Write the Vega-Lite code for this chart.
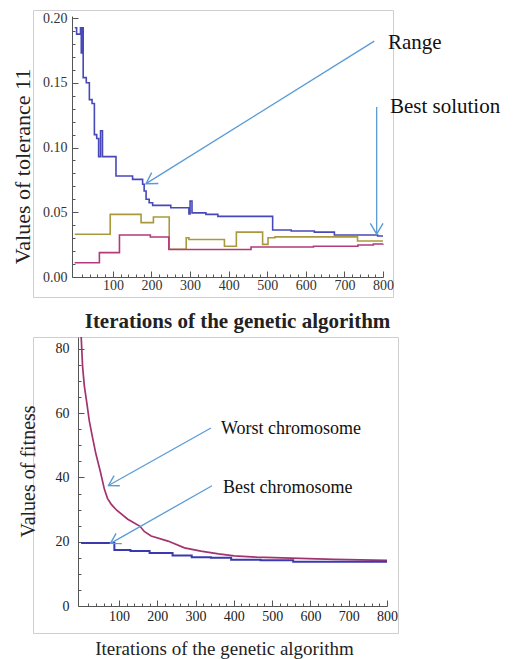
{
  "$schema": "https://vega.github.io/schema/vega-lite/v6.json",
  "padding": {"left": 10, "top": 9, "right": 2, "bottom": 2},
  "bounds": "flush",
  "spacing": 40,
  "config": {
    "font": "Liberation Serif",
    "view": {"stroke": "#cfcfcf", "strokeWidth": 1},
    "axis": {
      "grid": false,
      "domainColor": "#555555",
      "tickColor": "#555555",
      "labelFont": "Liberation Serif",
      "titleFont": "Liberation Serif",
      "labelOverlap": false,
      "labelFlush": false,
      "labelFontSize": 14
    }
  },
  "datasets": {
    "tolerance": [
      {"series": "Range", "x": 1, "y": 0.1925},
      {"series": "Range", "x": 6, "y": 0.1876},
      {"series": "Range", "x": 16, "y": 0.1925},
      {"series": "Range", "x": 18, "y": 0.173},
      {"series": "Range", "x": 19, "y": 0.1925},
      {"series": "Range", "x": 23, "y": 0.154},
      {"series": "Range", "x": 31, "y": 0.150},
      {"series": "Range", "x": 39, "y": 0.137},
      {"series": "Range", "x": 46, "y": 0.134},
      {"series": "Range", "x": 52, "y": 0.110},
      {"series": "Range", "x": 58, "y": 0.107},
      {"series": "Range", "x": 63, "y": 0.093},
      {"series": "Range", "x": 68, "y": 0.113},
      {"series": "Range", "x": 73, "y": 0.093},
      {"series": "Range", "x": 108, "y": 0.078},
      {"series": "Range", "x": 151, "y": 0.0754},
      {"series": "Range", "x": 177, "y": 0.0716},
      {"series": "Range", "x": 181, "y": 0.0664},
      {"series": "Range", "x": 186, "y": 0.060},
      {"series": "Range", "x": 194, "y": 0.0574},
      {"series": "Range", "x": 203, "y": 0.0553},
      {"series": "Range", "x": 250, "y": 0.0535},
      {"series": "Range", "x": 297, "y": 0.0487},
      {"series": "Range", "x": 300, "y": 0.0587},
      {"series": "Range", "x": 305, "y": 0.0495},
      {"series": "Range", "x": 341, "y": 0.0484},
      {"series": "Range", "x": 372, "y": 0.0468},
      {"series": "Range", "x": 514, "y": 0.0363},
      {"series": "Range", "x": 562, "y": 0.0355},
      {"series": "Range", "x": 622, "y": 0.0347},
      {"series": "Range", "x": 674, "y": 0.0324},
      {"series": "Range", "x": 786, "y": 0.0317},
      {"series": "Range", "x": 800, "y": 0.0317},
      {"series": "Upper", "x": 1, "y": 0.033},
      {"series": "Upper", "x": 93, "y": 0.0484},
      {"series": "Upper", "x": 173, "y": 0.042},
      {"series": "Upper", "x": 205, "y": 0.0463},
      {"series": "Upper", "x": 246, "y": 0.0214},
      {"series": "Upper", "x": 290, "y": 0.0303},
      {"series": "Upper", "x": 297, "y": 0.029},
      {"series": "Upper", "x": 389, "y": 0.0238},
      {"series": "Upper", "x": 420, "y": 0.0347},
      {"series": "Upper", "x": 488, "y": 0.0252},
      {"series": "Upper", "x": 502, "y": 0.0303},
      {"series": "Upper", "x": 520, "y": 0.031},
      {"series": "Upper", "x": 734, "y": 0.0278},
      {"series": "Upper", "x": 800, "y": 0.0278},
      {"series": "Lower", "x": 1, "y": 0.011},
      {"series": "Lower", "x": 65, "y": 0.0188},
      {"series": "Lower", "x": 117, "y": 0.0324},
      {"series": "Lower", "x": 197, "y": 0.0309},
      {"series": "Lower", "x": 245, "y": 0.0212},
      {"series": "Lower", "x": 458, "y": 0.0232},
      {"series": "Lower", "x": 620, "y": 0.0238},
      {"series": "Lower", "x": 735, "y": 0.0247},
      {"series": "Lower", "x": 775, "y": 0.0255},
      {"series": "Lower", "x": 800, "y": 0.0257}
    ],
    "fitness": [
      {"series": "Worst chromosome", "x": 1, "y": 84.5},
      {"series": "Worst chromosome", "x": 5, "y": 74.5},
      {"series": "Worst chromosome", "x": 9.5, "y": 68.5},
      {"series": "Worst chromosome", "x": 16.5, "y": 62.8},
      {"series": "Worst chromosome", "x": 22.5, "y": 57.6},
      {"series": "Worst chromosome", "x": 31, "y": 52.4},
      {"series": "Worst chromosome", "x": 40, "y": 47.2},
      {"series": "Worst chromosome", "x": 51, "y": 42},
      {"series": "Worst chromosome", "x": 62, "y": 36.3},
      {"series": "Worst chromosome", "x": 70, "y": 33.5},
      {"series": "Worst chromosome", "x": 80, "y": 31.6},
      {"series": "Worst chromosome", "x": 94, "y": 29.8},
      {"series": "Worst chromosome", "x": 123, "y": 27},
      {"series": "Worst chromosome", "x": 140, "y": 25.8},
      {"series": "Worst chromosome", "x": 155, "y": 24.8},
      {"series": "Worst chromosome", "x": 166, "y": 23.2},
      {"series": "Worst chromosome", "x": 184, "y": 21.8},
      {"series": "Worst chromosome", "x": 228, "y": 20.2},
      {"series": "Worst chromosome", "x": 271, "y": 18.1},
      {"series": "Worst chromosome", "x": 314, "y": 17.1},
      {"series": "Worst chromosome", "x": 360, "y": 16.2},
      {"series": "Worst chromosome", "x": 401, "y": 15.6},
      {"series": "Worst chromosome", "x": 460, "y": 15.2},
      {"series": "Worst chromosome", "x": 549, "y": 14.9},
      {"series": "Worst chromosome", "x": 663, "y": 14.5},
      {"series": "Worst chromosome", "x": 800, "y": 14.2},
      {"series": "Best chromosome", "x": 1, "y": 19.6},
      {"series": "Best chromosome", "x": 88, "y": 17.4},
      {"series": "Best chromosome", "x": 130, "y": 17.1},
      {"series": "Best chromosome", "x": 180, "y": 16.5},
      {"series": "Best chromosome", "x": 240, "y": 15.7},
      {"series": "Best chromosome", "x": 290, "y": 15.2},
      {"series": "Best chromosome", "x": 340, "y": 15.0},
      {"series": "Best chromosome", "x": 393, "y": 14.4},
      {"series": "Best chromosome", "x": 470, "y": 14.2},
      {"series": "Best chromosome", "x": 555, "y": 13.8},
      {"series": "Best chromosome", "x": 800, "y": 13.8}
    ],
    "topArrows": [
      {"label": "Range", "x": 185.8, "y": 0.0721, "x2": 777.4, "y2": 0.1822},
      {"label": "Best solution", "x": 783.6, "y": 0.0332, "x2": 783.6, "y2": 0.1313}
    ],
    "topLabels": [
      {"label": "Range", "x": 812.9, "y": 0.1807},
      {"label": "Best solution", "x": 818, "y": 0.1313}
    ],
    "bottomArrows": [
      {"label": "Worst chromosome", "x": 72.6, "y": 37.5, "x2": 340.3, "y2": 55.4},
      {"label": "Best chromosome", "x": 77.8, "y": 19.5, "x2": 343, "y2": 37.4}
    ],
    "bottomLabels": [
      {"label": "Worst chromosome", "x": 366.5, "y": 55.1},
      {"label": "Best chromosome", "x": 371.7, "y": 36.7}
    ]
  },
  "vconcat": [
    {
      "width": 360,
      "height": 287,
      "encoding": {
        "x": {
          "field": "x", "type": "quantitative",
          "scale": {"domain": [-6, 800], "range": [39, 350], "nice": false, "zero": false},
          "axis": {
            "title": "Iterations of the genetic algorithm",
            "orient": "bottom",
            "offset": -20,
            "values": [20,40,60,80,100,120,140,160,180,200,220,240,260,280,300,320,340,360,380,400,420,440,460,480,500,520,540,560,580,600,620,640,660,680,700,720,740,760,780,800],
            "format": "d",
            "labelExpr": "datum.value % 100 === 0 ? datum.label : ''",
            "tickSize": {"condition": {"test": "datum.value % 100 === 0", "value": -6}, "value": -3},
            "labelPadding": 7,
            "labelFont": "Liberation Serif",
            "labelFontSize": 14,
            "labelColor": "#333333",
            "titleFontSize": 21,
            "titleFontWeight": "bold",
            "titleColor": "#222222",
            "titleX": 204,
            "titleY": 50,
            "titleBaseline": "alphabetic",
            "titleAlign": "center"
          }
        },
        "y": {
          "field": "y", "type": "quantitative",
          "scale": {"domain": [0, 0.2016], "range": [267, 6], "nice": false, "zero": false},
          "axis": {
            "title": "Values of tolerance 11",
            "orient": "left",
            "offset": -39,
            "values": [0,0.01,0.02,0.03,0.04,0.05,0.06,0.07,0.08,0.09,0.1,0.11,0.12,0.13,0.14,0.15,0.16,0.17,0.18,0.19,0.2],
            "labelExpr": "round(datum.value*100) % 5 === 0 ? format(datum.value, '.2f') : ''",
            "tickSize": {"condition": {"test": "round(datum.value*100) % 5 === 0", "value": -6}, "value": -3},
            "labelPadding": 11,
            "labelFont": "Liberation Serif",
            "labelFontSize": 14,
            "labelColor": "#333333",
            "titleFontSize": 22,
            "titleFontWeight": "normal",
            "titleColor": "#222222",
            "titleAngle": -90,
            "titleX": -43,
            "titleY": 156,
            "titleBaseline": "alphabetic",
            "titleAlign": "center"
          }
        }
      },
      "layer": [
        {
          "data": {"name": "tolerance"},
          "mark": {"type": "line", "interpolate": "step-after", "strokeWidth": 1.6},
          "encoding": {
            "color": {
              "field": "series", "type": "nominal",
              "scale": {"domain": ["Range", "Upper", "Lower"], "range": ["#4848b8", "#a89a3c", "#b23a7c"]},
              "legend": null
            }
          }
        },
        {
          "data": {"name": "topArrows"},
          "mark": {"type": "rule", "color": "#5b9bd5", "strokeWidth": 1.3},
          "encoding": {
            "x2": {"field": "x2"},
            "y2": {"field": "y2"}
          }
        },
        {
          "data": {"name": "topArrows"},
          "transform": [{"filter": "datum.label === 'Range'"}],
          "mark": {"type": "point", "shape": "M-1,-0.6L0,0L-1,0.6", "filled": false, "color": "#5b9bd5", "strokeWidth": 1.4, "size": 450, "opacity": 1, "angle": 148},
          "encoding": {}
        },
        {
          "data": {"name": "topArrows"},
          "transform": [{"filter": "datum.label === 'Best solution'"}],
          "mark": {"type": "point", "shape": "M-1,-0.6L0,0L-1,0.6", "filled": false, "color": "#5b9bd5", "strokeWidth": 1.4, "size": 450, "opacity": 1, "angle": 90},
          "encoding": {}
        },
        {
          "data": {"name": "topLabels"},
          "mark": {"type": "text", "align": "left", "baseline": "middle", "fontSize": 21, "font": "Liberation Serif", "color": "#111111"},
          "encoding": {
            "text": {"field": "label", "type": "nominal"}
          }
        }
      ]
    },
    {
      "width": 365,
      "height": 296,
      "encoding": {
        "x": {
          "field": "x", "type": "quantitative",
          "scale": {"domain": [-7, 800], "range": [45, 354], "nice": false, "zero": false},
          "axis": {
            "title": "Iterations of the genetic algorithm",
            "orient": "bottom",
            "offset": -27,
            "values": [20,40,60,80,100,120,140,160,180,200,220,240,260,280,300,320,340,360,380,400,420,440,460,480,500,520,540,560,580,600,620,640,660,680,700,720,740,760,780,800],
            "format": "d",
            "labelExpr": "datum.value % 100 === 0 ? datum.label : ''",
            "tickSize": {"condition": {"test": "datum.value % 100 === 0", "value": -6}, "value": -3},
            "labelPadding": 9,
            "labelFont": "Liberation Serif",
            "labelFontSize": 14,
            "labelColor": "#222222",
            "titleFontSize": 19,
            "titleFontWeight": "normal",
            "titleColor": "#222222",
            "titleX": 191,
            "titleY": 48,
            "titleBaseline": "alphabetic",
            "titleAlign": "center"
          }
        },
        "y": {
          "field": "y", "type": "quantitative",
          "scale": {"domain": [0, 83.7], "range": [269, 0], "nice": false, "zero": false},
          "axis": {
            "title": "Values of fitness",
            "orient": "left",
            "offset": -45,
            "values": [0,5,10,15,20,25,30,35,40,45,50,55,60,65,70,75,80],
            "labelExpr": "datum.value % 20 === 0 ? datum.label : ''",
            "tickSize": {"condition": {"test": "datum.value % 20 === 0", "value": -6}, "value": -3},
            "labelPadding": 15,
            "labelFont": "Liberation Serif",
            "labelFontSize": 14,
            "labelColor": "#222222",
            "titleFontSize": 20,
            "titleFontWeight": "normal",
            "titleColor": "#222222",
            "titleAngle": -90,
            "titleX": -43.5,
            "titleY": 134,
            "titleBaseline": "alphabetic",
            "titleAlign": "center"
          }
        }
      },
      "layer": [
        {
          "data": {"name": "fitness"},
          "mark": {"type": "line", "strokeWidth": 1.7, "clip": true},
          "transform": [{"filter": "datum.series === 'Worst chromosome'"}],
          "encoding": {
            "color": {"value": "#a3336f"}
          }
        },
        {
          "data": {"name": "fitness"},
          "mark": {"type": "line", "interpolate": "step-after", "strokeWidth": 2, "clip": true},
          "transform": [{"filter": "datum.series === 'Best chromosome'"}],
          "encoding": {
            "color": {"value": "#3a3aae"}
          }
        },
        {
          "data": {"name": "bottomArrows"},
          "mark": {"type": "rule", "color": "#5b9bd5", "strokeWidth": 1.3},
          "encoding": {
            "x2": {"field": "x2"},
            "y2": {"field": "y2"}
          }
        },
        {
          "data": {"name": "bottomArrows"},
          "mark": {"type": "point", "shape": "M-1,-0.6L0,0L-1,0.6", "filled": false, "color": "#5b9bd5", "strokeWidth": 1.4, "size": 380, "opacity": 1, "angle": 150.6},
          "encoding": {}
        },
        {
          "data": {"name": "bottomLabels"},
          "mark": {"type": "text", "align": "left", "baseline": "middle", "fontSize": 18, "font": "Liberation Serif", "color": "#111111"},
          "encoding": {
            "text": {"field": "label", "type": "nominal"}
          }
        }
      ]
    }
  ]
}
